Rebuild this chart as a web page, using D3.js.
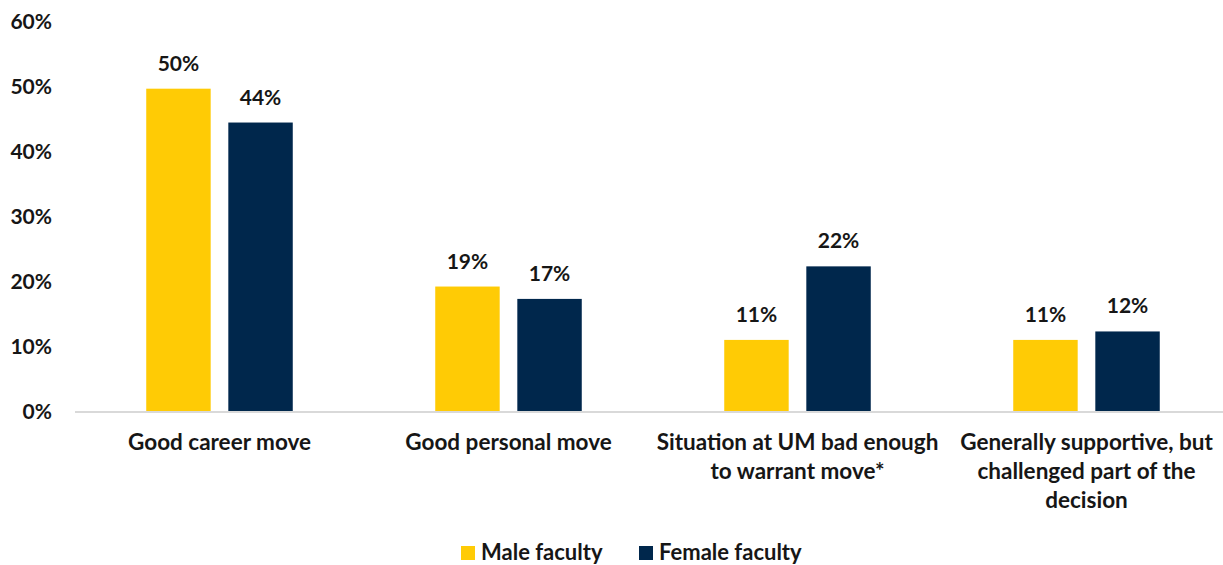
<!DOCTYPE html>
<html>
<head>
<meta charset="utf-8">
<script src="https://cdn.jsdelivr.net/npm/d3@7"></script>
<style>
  html, body { margin: 0; padding: 0; background: #fff; }
  svg text { font-family: Lato, "Open Sans", sans-serif; font-weight: 700; fill: #161616; }
</style>
</head>
<body>
<div id="chart"></div>
<script>
var categories = [
  'Good career move',
  'Good personal move',
  'Situation at UM bad enough to warrant move*',
  'Generally supportive, but challenged part of the decision'
];
// label lines as wrapped in the original
var categoryLines = [
  ['Good career move'],
  ['Good personal move'],
  ['Situation at UM bad enough', 'to warrant move*'],
  ['Generally supportive, but', 'challenged part of the', 'decision']
];
var seriesNames = ['Male faculty', 'Female faculty'];
var maleValues = [49.6, 19.2, 11.0, 11.0];
var femaleValues = [44.4, 17.3, 22.3, 12.3];
var maleLabels = ['50%', '19%', '11%', '11%'];
var femaleLabels = ['44%', '17%', '22%', '12%'];
var yTicks = [0, 10, 20, 30, 40, 50, 60];

var colors = ['#FFCB05', '#00274C'];

var size = { frameWidth: 1223, frameHeight: 565 };

var svg = d3.select('#chart').append('svg')
  .attr('width', size.frameWidth)
  .attr('height', size.frameHeight);

var x = d3.scaleBand()
  .domain(categories)
  .range([75, 1231]);

var y = d3.scaleLinear()
  .domain([0, 60])
  .range([411.5, 21]);

var barWidth = x.bandwidth() * 0.223;
var barGap = x.bandwidth() * 0.061;

var series = [
  { name: seriesNames[0], values: maleValues, labels: maleLabels, color: colors[0], offset: -(barGap / 2 + barWidth) },
  { name: seriesNames[1], values: femaleValues, labels: femaleLabels, color: colors[1], offset: barGap / 2 }
];

// y axis labels (no line, no gridlines)
svg.append('g')
  .selectAll('text')
  .data(yTicks)
  .enter()
  .append('text')
  .attr('x', 52)
  .attr('y', function(d) { return y(d) + 7.5; })
  .attr('text-anchor', 'end')
  .style('font-size', '21px')
  .text(function(d) { return d + '%'; });

series.forEach(function(s) {
  var g = svg.append('g');

  g.selectAll('rect')
    .data(categories)
    .enter()
    .append('rect')
    .attr('x', function(d) { return x(d) + x.bandwidth() / 2 + s.offset; })
    .attr('y', function(d, i) { return y(s.values[i]); })
    .attr('width', barWidth)
    .attr('height', function(d, i) { return y(0) - y(s.values[i]); })
    .style('fill', s.color);

  g.selectAll('text')
    .data(categories)
    .enter()
    .append('text')
    .attr('x', function(d) { return x(d) + x.bandwidth() / 2 + s.offset + barWidth / 2; })
    .attr('y', function(d, i) { return y(s.values[i]) - 18; })
    .attr('text-anchor', 'middle')
    .style('font-size', '21px')
    .text(function(d, i) { return s.labels[i]; });
});

// baseline
svg.append('line')
  .attr('x1', 75)
  .attr('x2', 1231)
  .attr('y1', y(0) + 0.5)
  .attr('y2', y(0) + 0.5)
  .style('stroke', '#d9d9d9')
  .style('stroke-width', 2);

// category labels
categories.forEach(function(c, i) {
  var t = svg.append('text')
    .attr('text-anchor', 'middle')
    .style('font-size', '22.5px');
  categoryLines[i].forEach(function(line, j) {
    t.append('tspan')
      .attr('x', x(c) + x.bandwidth() / 2)
      .attr('y', 450 + j * 29)
      .text(line);
  });
});

// legend
var legendX = [461, 639];
var legend = svg.append('g');
series.forEach(function(s, i) {
  legend.append('rect')
    .attr('x', legendX[i])
    .attr('y', 546)
    .attr('width', 14)
    .attr('height', 14)
    .style('fill', s.color);
  legend.append('text')
    .attr('x', legendX[i] + 20)
    .attr('y', 559.5)
    .style('font-size', '22px')
    .text(s.name);
});
</script>
</body>
</html>
